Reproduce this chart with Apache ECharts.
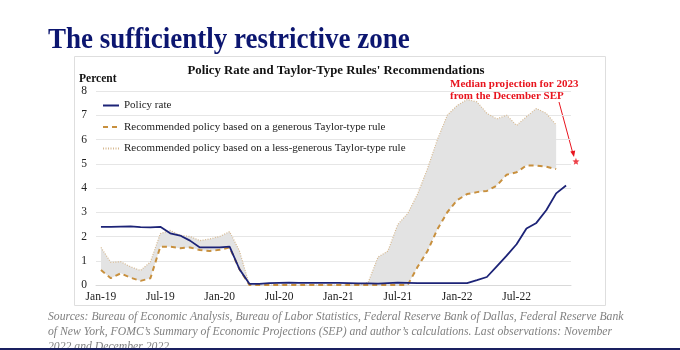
<!DOCTYPE html>
<html>
<head>
<meta charset="utf-8">
<script src="https://cdn.jsdelivr.net/npm/echarts@6/dist/echarts.min.js"></script>
<style>html,body{margin:0;padding:0;background:#fff;}#c{width:680px;height:350px;}</style>
</head>
<body>
<div id="c"></div>
<script>
var categories = ['Jan-19','Feb-19','Mar-19','Apr-19','May-19','Jun-19','Jul-19','Aug-19','Sep-19','Oct-19','Nov-19','Dec-19',
'Jan-20','Feb-20','Mar-20','Apr-20','May-20','Jun-20','Jul-20','Aug-20','Sep-20','Oct-20','Nov-20','Dec-20',
'Jan-21','Feb-21','Mar-21','Apr-21','May-21','Jun-21','Jul-21','Aug-21','Sep-21','Oct-21','Nov-21','Dec-21',
'Jan-22','Feb-22','Mar-22','Apr-22','May-22','Jun-22','Jul-22','Aug-22','Sep-22','Oct-22','Nov-22','Dec-22'];

var policyRate = [2.40,2.40,2.41,2.42,2.39,2.38,2.40,2.13,2.04,1.83,1.55,1.55,
1.55,1.58,0.65,0.05,0.05,0.08,0.09,0.10,0.09,0.09,0.09,0.09,
0.09,0.08,0.07,0.07,0.06,0.08,0.10,0.09,0.08,0.08,0.08,0.08,
0.08,0.08,0.20,0.33,0.77,1.21,1.68,2.33,2.56,3.08,3.78,4.10];

var generousRule = [0.62,0.28,0.48,0.30,0.17,0.28,1.58,1.58,1.52,1.55,1.44,1.40,
1.45,1.55,0.65,0,0,0,0,0,0,0,0,0,
0,0,0,0,0,0,0,0,0.75,1.40,2.30,3.00,
3.50,3.75,3.83,3.88,4.10,4.55,4.65,4.93,4.92,4.88,4.78,null];

var lessGenerousRule = [1.55,0.93,0.96,0.75,0.60,0.95,2.12,2.25,2.05,2.00,1.83,1.90,
2.00,2.20,1.40,0,0,0,0,0,0,0,0,0,
0,0,0,0.10,1.15,1.40,2.50,2.95,3.75,4.80,6.00,7.00,
7.40,7.65,7.55,7.08,6.85,7.00,6.58,6.94,7.28,7.08,6.60,null];

var sepMedian2023 = [[48, 5.1]];

var yTicks = [0,1,2,3,4,5,6,7,8];

var nameP = 'Policy rate';
var nameG = 'Recommended policy based on a generous Taylor-type rule';
var nameL = 'Recommended policy based on a less-generous Taylor-type rule';

var band = lessGenerousRule.map(function(v,i){ return v==null||generousRule[i]==null?null:+(v-generousRule[i]).toFixed(3); });

var SERIF = '"Liberation Serif","Times New Roman",serif';
var chart = echarts.init(document.getElementById('c'), null, {renderer:'canvas'});
var starPath = 'path://M12 1 L14.9 8.6 L23 9.3 L16.8 14.4 L18.8 22.3 L12 18 L5.2 22.3 L7.2 14.4 L1 9.3 L9.1 8.6 Z';

chart.setOption({
  animation:false,
  backgroundColor:'#fff',
  grid:{left:96,right:109,top:91,bottom:65},
  legend:{
    data:[nameP,nameG,nameL],
    orient:'vertical', left:102, top:100, padding:0, itemWidth:16, itemHeight:10, itemGap:10.5,
    itemStyle:{opacity:0},
    textStyle:{fontFamily:SERIF,fontSize:11,color:'#222'},
    selectedMode:false
  },
  xAxis:[{
    type:'category', data:categories, boundaryGap:true,
    axisLine:{lineStyle:{color:'#d9d9d9'}},
    axisTick:{interval:5,length:4,lineStyle:{color:'#d9d9d9'}},
    axisLabel:{interval:5,margin:6,fontFamily:SERIF,fontSize:11.5,color:'#222'}
  },{
    type:'value', min:-0.5, max:47.5, show:false
  }],
  yAxis:{
    type:'value', min:yTicks[0], max:yTicks[yTicks.length-1], interval:1,
    axisLine:{show:false}, axisTick:{show:false},
    axisLabel:{margin:9,fontFamily:SERIF,fontSize:11.5,color:'#222'},
    splitLine:{lineStyle:{color:'#e6e6e6'}}
  },
  series:[
    {name:nameG,type:'line',data:generousRule,stack:'rule',symbol:'none',z:3,
     lineStyle:{color:'#c8903e',width:2,type:[5,4]},itemStyle:{color:'#c8903e'}},
    {name:nameL,type:'line',data:band,stack:'rule',symbol:'none',z:2,
     lineStyle:{color:'#d6b88f',width:1.2,type:[1,1.5]},itemStyle:{color:'#d6b88f'},
     areaStyle:{color:'#e3e3e3',opacity:1}},
    {name:nameP,type:'line',data:policyRate,symbol:'none',z:4,
     lineStyle:{color:'#1c2377',width:1.8},itemStyle:{color:'#1c2377'}},
    {name:'SEP',type:'scatter',xAxisIndex:1,data:sepMedian2023,symbol:starPath,symbolSize:7,clip:false,z:5,
     itemStyle:{color:'#e8141e'}}
  ],
  graphic:[
    {type:'rect',shape:{x:74.5,y:56.5,width:531,height:249},style:{fill:'none',stroke:'#dedede',lineWidth:1},z:-1},
    {type:'text',x:48,y:40,scaleX:0.9,style:{x:0,y:0,text:'The sufficiently restrictive zone',font:'bold 30px '+SERIF,fill:'#0c1670',verticalAlign:'middle',align:'left'}},
    {type:'text',x:336,y:71,style:{text:'Policy Rate and Taylor-Type Rules\' Recommendations',font:'bold 12.8px '+SERIF,fill:'#111',align:'center',verticalAlign:'middle'}},
    {type:'text',x:79,y:79,style:{text:'Percent',font:'bold 11.5px '+SERIF,fill:'#111',align:'left',verticalAlign:'middle'}},
    {type:'text',x:450,y:84,style:{text:'Median projection for 2023',font:'bold 11px '+SERIF,fill:'#e8141e',align:'left',verticalAlign:'middle'}},
    {type:'text',x:450,y:96.5,style:{text:'from the December SEP',font:'bold 11px '+SERIF,fill:'#e8141e',align:'left',verticalAlign:'middle'}},
    {type:'line',shape:{x1:559,y1:102,x2:572.5,y2:152},style:{stroke:'#e8141e',lineWidth:1}},
    {type:'polygon',shape:{points:[[574,157],[570.3,151.6],[575.2,150.4]]},style:{fill:'#e8141e'}},
    {type:'text',x:48,y:309.5,style:{text:'Sources: Bureau of Economic Analysis, Bureau of Labor Statistics, Federal Reserve Bank of Dallas, Federal Reserve Bank\nof New York, FOMC\u2019s Summary of Economic Projections (SEP) and author\u2019s calculations. Last observations: November\n2022 and December 2022.',font:'italic 11.7px '+SERIF,lineHeight:14.8,fill:'#808080',align:'left',verticalAlign:'top'}},
    {type:'rect',shape:{x:0,y:348,width:680,height:2},style:{fill:'#1a2060'}}
  ]
});
</script>
</body>
</html>
